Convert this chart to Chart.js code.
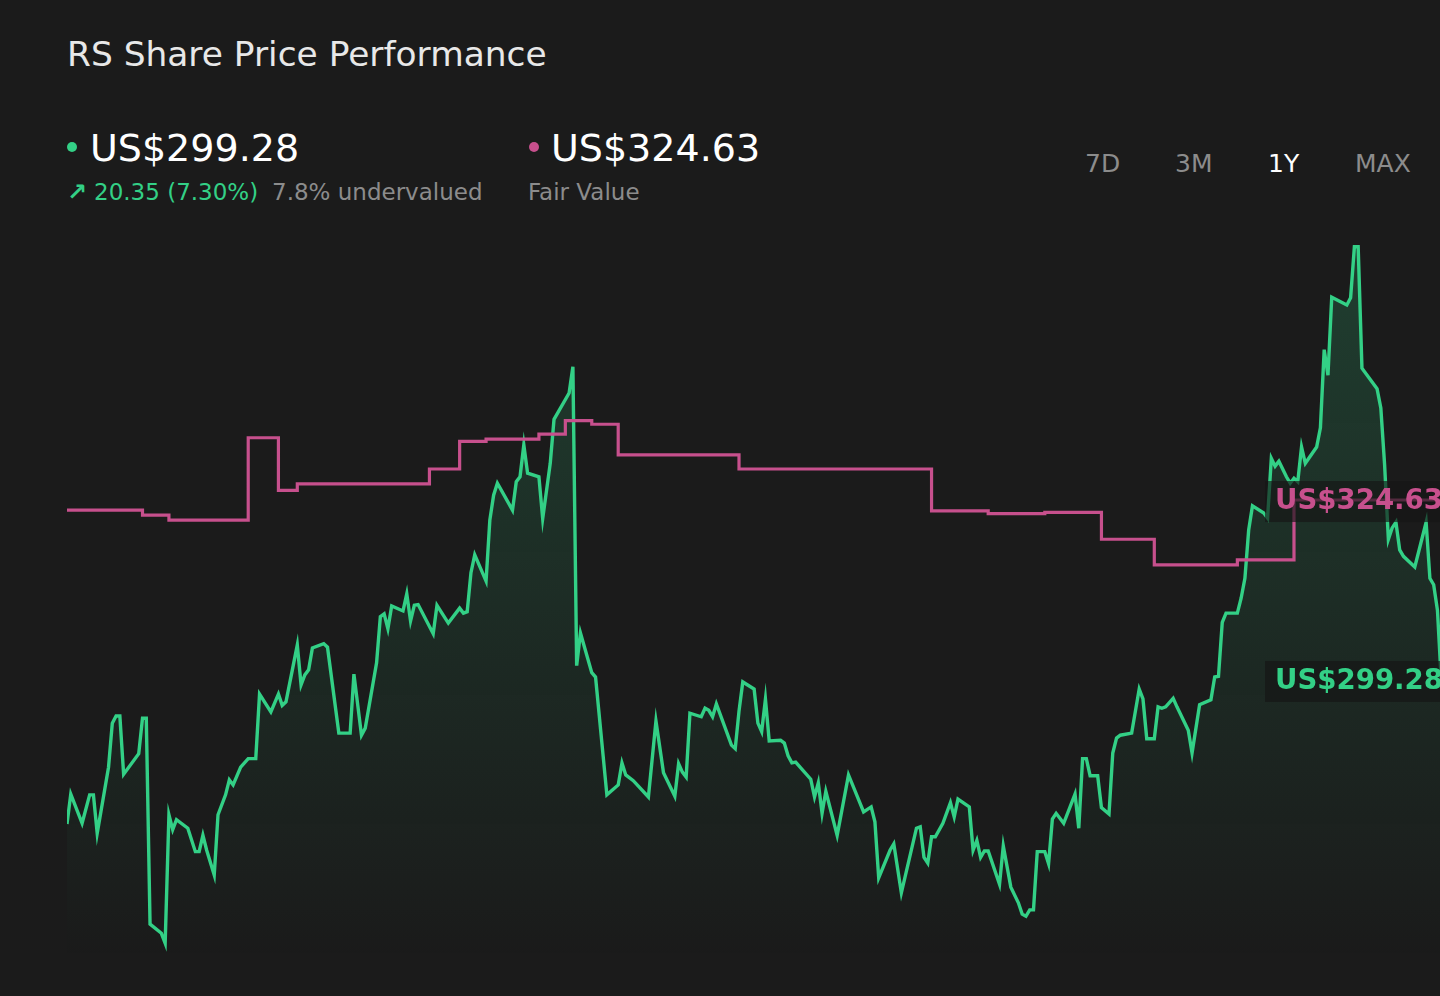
<!DOCTYPE html>
<html>
<head>
<meta charset="utf-8">
<script src="https://cdn.jsdelivr.net/npm/chart.js@4.4.1/dist/chart.umd.min.js"></script>
<style>
  html, body { margin: 0; padding: 0; width: 1440px; height: 996px; overflow: hidden; background: #1b1b1b; }
  body { position: relative; font-family: "DejaVu Sans", sans-serif; }
  .t { position: absolute; line-height: 1; white-space: nowrap; }
  .dot { position: absolute; width: 10px; height: 10px; border-radius: 50%; }
  #wrap { position: absolute; left: 67px; top: 230px; width: 1378px; height: 730px; }
</style>
</head>
<body>
<div class="t" style="left:67px; top:37px; font-size:34.4px; color:#e8e8e8;">RS Share Price Performance</div>

<div class="dot" style="left:67px; top:142px; background:#33d086;"></div>
<div class="t" style="left:90px; top:129px; font-size:38px; color:#ffffff;">US$299.28</div>
<div class="t" style="left:67px; top:180px; font-size:24px; color:#33d086;"><b>↗</b></div>
<div class="t" style="left:94px; top:181px; font-size:23px; color:#33d086;">20.35 (7.30%)</div>
<div class="t" style="left:272px; top:181px; font-size:23px; color:#8c8c8c;">7.8% undervalued</div>

<div class="dot" style="left:529px; top:142px; background:#c7508d;"></div>
<div class="t" style="left:551px; top:129px; font-size:38px; color:#ffffff;">US$324.63</div>
<div class="t" style="left:528px; top:181px; font-size:23px; color:#8c8c8c;">Fair Value</div>

<div class="t" style="left:1085px; top:151px; font-size:25px; color:#8c8c8c;">7D</div>
<div class="t" style="left:1175px; top:151px; font-size:25px; color:#8c8c8c;">3M</div>
<div class="t" style="left:1268px; top:151px; font-size:25px; color:#ffffff;">1Y</div>
<div class="t" style="left:1355px; top:151px; font-size:25px; color:#8c8c8c;">MAX</div>

<div id="wrap"><canvas id="priceChart"></canvas></div>

<script>
// daily closes over the last year (day 0 = start of window)
const priceDays = [0, 1, 4, 6, 7, 8, 11, 12, 13, 14, 15, 19, 20, 21, 22, 25, 26, 27, 28, 29,
  32, 34, 35, 36, 37, 39, 40, 42, 43, 44, 46, 48, 50, 51, 54, 56, 57, 58, 61, 62,
  63, 64, 65, 68, 69, 72, 75, 76, 78, 79, 82, 83, 84, 85, 86, 89, 90, 91, 92, 93,
  97, 98, 101, 104, 105, 106, 107, 108, 111, 112, 113, 114, 118, 119, 120, 121, 122, 125, 126, 128,
  129, 133, 134, 135, 136, 139, 140, 143, 146, 147, 148, 150, 154, 156, 158, 161, 162, 163, 164, 165,
  168, 169, 170, 171, 172, 176, 177, 178, 179, 182, 183, 184, 185, 186, 189, 190, 191, 192, 193, 197,
  198, 199, 200, 201, 204, 207, 211, 213, 214, 215, 218, 219, 221, 225, 226, 227, 228, 229, 230, 232,
  234, 235, 236, 239, 240, 241, 242, 243, 244, 247, 248, 250, 252, 253, 254, 255, 256, 257, 259, 260,
  261, 262, 264, 267, 268, 269, 270, 271, 273, 274, 276, 277, 278, 279, 282, 284, 285, 286, 288, 289,
  290, 291, 293, 294, 297, 298, 300, 303, 304, 305, 306, 307, 310, 311, 312, 313, 314, 317, 318, 319,
  320, 321, 323, 324, 325, 326, 327, 328, 331, 332, 333, 334, 335, 339, 340, 341, 342, 343, 347, 348,
  349, 350, 351, 352, 353, 354, 357, 360, 361, 362, 363, 364];

const priceValues = [279.0, 283.2, 279.1, 283.1, 283.1, 277.7, 287.0, 293.2, 294.2, 294.2, 286.0, 288.9, 293.9, 293.9, 264.9, 263.6, 262.2, 280.3, 278.2, 279.6,
  278.4, 275.1, 275.1, 277.4, 275.3, 271.8, 280.3, 283.1, 285.2, 284.5, 287.0, 288.2, 288.2, 297.3, 294.8, 297.3, 295.7, 296.2, 304.2, 298.6,
  300.0, 300.7, 303.8, 304.4, 303.9, 291.8, 291.8, 300.1, 291.5, 292.5, 301.7, 308.2, 308.6, 306.5, 309.7, 309.0, 311.4, 307.6, 309.8, 309.9,
  305.8, 309.8, 307.3, 309.4, 308.7, 308.9, 314.4, 316.9, 313.2, 321.8, 325.3, 327.0, 323.2, 327.2, 327.9, 332.4, 328.4, 327.9, 322.0, 329.8,
  336.0, 339.7, 343.4, 301.3, 305.9, 300.3, 299.7, 283.1, 284.5, 287.6, 285.9, 285.1, 282.8, 293.5, 286.2, 282.9, 287.5, 286.3, 285.6, 294.6,
  294.1, 295.3, 295.0, 294.1, 295.9, 290.1, 289.6, 294.9, 299.0, 298.0, 293.2, 292.0, 296.6, 290.7, 290.8, 290.4, 288.6, 287.6, 287.7, 285.3,
  282.8, 284.8, 280.5, 283.6, 277.4, 285.9, 280.7, 281.4, 279.3, 271.4, 275.3, 276.2, 269.3, 278.4, 278.6, 274.3, 273.5, 277.2, 277.2, 279.1,
  282.0, 280.0, 282.5, 281.4, 275.3, 276.7, 274.3, 275.2, 275.2, 270.5, 275.9, 270.1, 267.9, 266.3, 266.0, 266.9, 266.9, 275.1, 275.1, 273.4,
  279.7, 280.5, 279.1, 283.2, 278.4, 288.2, 288.2, 285.8, 285.8, 281.3, 280.4, 289.0, 291.1, 291.5, 291.8, 298.0, 296.6, 291.0, 291.0, 295.5,
  295.3, 295.5, 296.7, 295.5, 292.2, 289.0, 295.8, 296.5, 299.7, 299.8, 307.4, 308.7, 308.7, 310.8, 313.6, 320.4, 323.8, 322.8, 322.1, 330.5,
  329.4, 330.1, 327.9, 327.0, 327.7, 327.2, 332.1, 329.8, 332.1, 334.8, 345.8, 342.2, 353.2, 352.1, 353.1, 360.3, 360.3, 343.2, 340.3, 337.6,
  329.6, 319.1, 320.7, 321.5, 317.6, 316.7, 315.2, 321.5, 313.6, 312.7, 309.1, 299.28];

// fair value estimate, changes on these days
const fairDays = [0, 20, 27, 48, 56, 61, 96, 104, 111, 125, 132, 139, 146, 178, 229, 244, 259, 274, 288, 310, 325, 364];
const fairValues = [323.2, 322.5, 321.8, 333.4, 326.0, 326.9, 329.0, 332.9, 333.2, 333.9, 335.8, 335.3, 331.0, 329.0, 323.1, 322.7, 322.9, 319.1, 315.5, 316.2, 324.63, 324.63];

const lastPrice = 299.28;
const fairValue = 324.63;

const GREEN = '#33d086';
const PINK = '#c7508d';

function toPoints(xs, ys) {
  return xs.map((x, i) => ({ x: x, y: ys[i] }));
}

function fade(ctx, rgb, topAlpha) {
  const area = ctx.chart.chartArea;
  if (!area) return 'transparent';
  const g = ctx.chart.ctx.createLinearGradient(0, area.top, 0, area.bottom);
  g.addColorStop(0, `rgba(${rgb},${topAlpha})`);
  g.addColorStop(1, `rgba(${rgb},0)`);
  return g;
}

// price tags at the right edge
const endLabels = {
  id: 'endLabels',
  afterDatasetsDraw(chart) {
    const { ctx, chartArea, scales } = chart;
    const tags = [
      { value: fairValue, color: PINK },
      { value: lastPrice, color: GREEN }
    ];
    ctx.save();
    ctx.font = 'bold 27.6px "DejaVu Sans", sans-serif';
    ctx.textBaseline = 'middle';
    tags.forEach(t => {
      const y = scales.y.getPixelForValue(t.value);
      const left = chartArea.right - 180;
      ctx.fillStyle = 'rgba(22,22,22,0.65)';
      ctx.fillRect(left, y - 19, 200, 41);
      ctx.fillStyle = t.color;
      ctx.fillText('US$' + t.value.toFixed(2), left + 10, y + 1.5);
    });
    ctx.restore();
  }
};

new Chart(document.getElementById('priceChart'), {
  type: 'line',
  data: {
    datasets: [
      {
        label: 'Fair Value',
        data: toPoints(fairDays, fairValues),
        borderColor: PINK,
        borderWidth: 3.2,
        stepped: true,
        pointRadius: 0,
        fill: false
      },
      {
        label: 'Share Price',
        data: toPoints(priceDays, priceValues),
        borderColor: GREEN,
        borderWidth: 3.4,
        tension: 0,
        pointRadius: 0,
        fill: 'start',
        backgroundColor: ctx => fade(ctx, '51,208,134', 0.2)
      }
    ]
  },
  options: {
    responsive: true,
    maintainAspectRatio: false,
    animation: false,
    layout: { padding: 0 },
    plugins: { legend: { display: false }, tooltip: { enabled: false } },
    scales: {
      x: { type: 'linear', min: 0, max: 365, display: false },
      y: { min: 259.84, max: 362.66, display: false }
    }
  },
  plugins: [endLabels]
});
</script>
</body>
</html>
